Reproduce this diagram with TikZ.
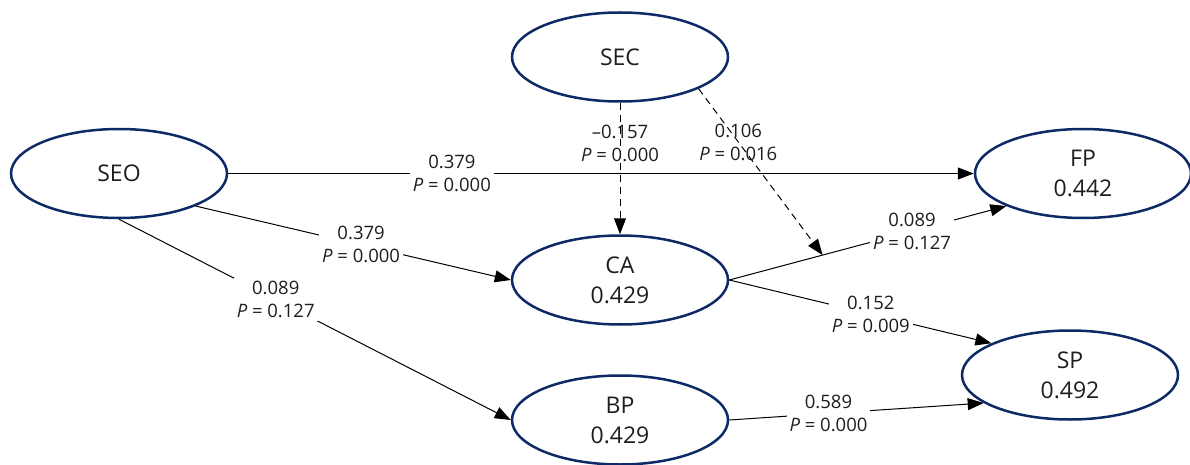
\documentclass[tikz,border=0pt]{standalone}
\usepackage{fontspec}
\setmainfont{Open Sans}
\usetikzlibrary{shapes.geometric,arrows.meta}
\definecolor{navy}{RGB}{13,42,102}
\definecolor{ink}{RGB}{30,30,30}
\begin{document}
\begin{tikzpicture}[x=1pt,y=-1pt,
  construct/.style={ellipse,draw=navy,line width=2.5pt,minimum width=216pt,
    minimum height=89pt,inner sep=0pt,align=center,
    font=\fontsize{23}{30}\selectfont,text=ink},
  link/.style={draw=black,line width=1pt,-{Triangle[length=16pt,width=12pt]}},
  moderation/.style={link,dash pattern=on 7pt off 5pt},
  coef/.style={fill=white,inner sep=3pt,align=center,
    font=\fontsize{18.5}{23}\selectfont,text=ink},
  coefclear/.style={coef,fill=none}]
\useasboundingbox (0,0) rectangle (1190,465);

% constructs
\node[construct] (SEC) at (620,57)  {SEC};
\node[construct] (SEO) at (119,173.5) {SEO};
\node[construct] (FP)  at (1083,173.5) {FP\\0.442};
\node[construct] (CA)  at (620,280) {CA\\0.429};
\node[construct] (BP)  at (620,420) {BP\\0.429};
\node[construct] (SP)  at (1070,375) {SP\\0.492};

% point where the moderating effect meets the CA -> FP path
\path (CA.east) -- coordinate[pos=0.337] (m) (FP.203);

% structural paths
\draw[link] (SEO.east) -- node[coef,pos=0.30] {0.379\\\textit{P} = 0.000} (FP.west);
\draw[link] (SEO.-23) -- node[coef,pos=0.525] {0.379\\\textit{P} = 0.000} (CA.west);
\draw[link] (SEO.south) -- node[coef,pos=0.40] {0.089\\\textit{P} = 0.127} (BP.west);
\draw[link] (CA.east) -- node[coef,pos=0.66] {0.089\\\textit{P} = 0.127} (FP.203);
\draw[link] (CA.east) -- node[coef,pos=0.54] {0.152\\\textit{P} = 0.009} (SP.158);
\draw[link] (BP.east) -- node[coef,pos=0.39] {0.589\\\textit{P} = 0.000} (SP.198);

% moderating effects of SEC
\draw[moderation] (SEC.south) -- node[coefclear,pos=0.31] {–0.157\\\textit{P} = 0.000} (CA.north);
\draw[moderation] (SEC.-22) -- node[coefclear,pos=0.32] {0.106\\\textit{P} = 0.016} (m);
\end{tikzpicture}
\end{document}
